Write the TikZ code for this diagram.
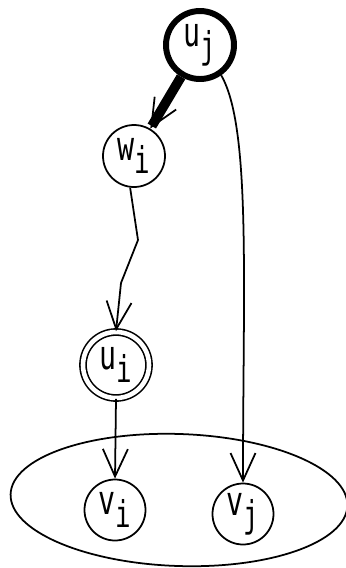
\documentclass[tikz,border=0pt]{standalone}
\usepackage{fontspec}
\usepackage{tikz}
\usetikzlibrary{arrows.meta, shapes.geometric, calc}

\newfontfamily\graphfont[FakeStretch=0.7]{DejaVu Sans Mono}
\newcommand{\vlabel}[2]{#1\raisebox{-0.55ex}{\fontsize{21}{23}\selectfont #2}}

\begin{document}
\begin{tikzpicture}[>={Straight Barb[length=5.5mm, width=5mm, line width=1pt 0]},
        vertex/.style={draw, circle, line width=1pt, inner sep=0pt, minimum size=1.22cm,
            font=\graphfont\fontsize{23}{26}\selectfont},
        every path/.style={line width=1pt}]
        \useasboundingbox (0, 0) rectangle (6.92, -11.36);

        \node[vertex, line width=3.4pt, minimum size=1.36cm] (uj) at (4.0, -0.9) {\vlabel{u}{j}};
        \node[vertex, minimum size=1.24cm] (wi) at (2.68, -3.12) {\vlabel{w}{i}};
        \node[vertex, double, double distance=2.6pt, line width=0.9pt, minimum size=1.32cm] (ui) at (2.32, -7.3) {\vlabel{u}{i}};
        \node[vertex] (vi) at (2.3, -10.2) {\vlabel{v}{i}};
        \node[vertex] (vj) at (4.86, -10.28) {\vlabel{v}{j}};

        \node[draw, ellipse, rotate=-2, line width=1pt, minimum width=6.74cm, minimum height=2.64cm] (grp) at (3.58, -10.0) {};

        \coordinate (bendA) at (2.76, -4.8);
        \coordinate (bendB) at (2.42, -5.66);

        \draw[->, line width=5.5pt] (uj) -- (wi);
        \draw[->] (uj.-55) .. controls +(-60:1.2) and +(90:4) .. (vj.north);
        \draw[->] (wi.-97) -- (bendA) -- (bendB) -- (ui.north);
        \draw[->] (ui.south) -- (vi.north);
    \end{tikzpicture}
\end{document}
